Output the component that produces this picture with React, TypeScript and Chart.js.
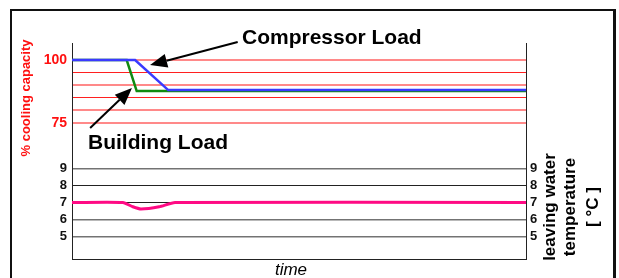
import React, { useEffect, useRef } from 'react';
import { Chart, registerables } from 'chart.js';

Chart.register(...registerables);

// ---- data ----
const timeBlue = [0, 13.9, 21.2, 100];
const capBlue = [100, 100, 88, 88];
const timeGreen = [0, 12.05, 14.25, 100];
const capGreen = [100, 100, 87.6, 87.6];
const timePink = [0, 11.2, 13.4, 15.2, 19.2, 22.7, 100];
const tempPink = [7, 7, 6.75, 6.62, 6.75, 7, 7];
const capTicks = [75, 80, 85, 90, 95, 100];
const capLabels = [75, 100];
const tempTicks = [5, 6, 7, 8, 9];

const FONT = '"Liberation Sans", Arial, Helvetica, sans-serif';

const toPts = (xs: number[], ys: number[]) => xs.map((x, i) => ({ x, y: ys[i] }));

function arrow(ctx: CanvasRenderingContext2D, x0: number, y0: number, x1: number, y1: number) {
  const ang = Math.atan2(y1 - y0, x1 - x0);
  const L = 17, W = 7;
  const bx = x1 - L * Math.cos(ang), by = y1 - L * Math.sin(ang);
  ctx.beginPath();
  ctx.moveTo(x0, y0);
  ctx.lineTo(bx, by);
  ctx.strokeStyle = '#000';
  ctx.lineWidth = 2;
  ctx.stroke();
  ctx.beginPath();
  ctx.moveTo(x1, y1);
  ctx.lineTo(bx + W * Math.sin(ang), by - W * Math.cos(ang));
  ctx.lineTo(bx - W * Math.sin(ang), by + W * Math.cos(ang));
  ctx.closePath();
  ctx.fillStyle = '#000';
  ctx.fill();
}

const decorPlugin = {
  id: 'decor',
  beforeDraw(chart: any) {
    const ctx = chart.ctx;
    ctx.save();
    ctx.fillStyle = '#fff';
    ctx.fillRect(0, 0, chart.width, chart.height);
    ctx.fillStyle = '#111';
    ctx.fillRect(10, 9, 606, 2);
    ctx.fillRect(10, 9, 2, 270);
    ctx.fillRect(613, 9, 3, 270);
    ctx.restore();
  },
  afterDraw(chart: any) {
    const ctx = chart.ctx;
    const xs = chart.scales.x;
    const y1 = chart.scales.y1;
    ctx.save();
    // left title
    ctx.save();
    ctx.translate(26, 98);
    ctx.rotate(-Math.PI / 2);
    ctx.font = `bold 13px ${FONT}`;
    ctx.fillStyle = '#ff1010';
    ctx.textAlign = 'center';
    ctx.textBaseline = 'middle';
    ctx.fillText('% cooling capacity', 0, 0);
    ctx.restore();
    // right title
    const lines = ['leaving water', 'temperature', '[ °C ]'];
    const lx = [550, 570, 593];
    lines.forEach((t, i) => {
      ctx.save();
      ctx.translate(lx[i], 207);
      ctx.rotate(-Math.PI / 2);
      ctx.font = `bold 17px ${FONT}`;
      ctx.fillStyle = '#000';
      ctx.textAlign = 'center';
      ctx.textBaseline = 'middle';
      ctx.fillText(t, 0, 0);
      ctx.restore();
    });
    // x title
    ctx.font = `italic 17px ${FONT}`;
    ctx.fillStyle = '#000';
    ctx.textAlign = 'center';
    ctx.textBaseline = 'alphabetic';
    ctx.fillText('time', 291, 275);
    // annotations
    ctx.font = `bold 21px ${FONT}`;
    ctx.textAlign = 'left';
    ctx.fillText('Compressor Load', 242, 43.5);
    ctx.fillText('Building Load', 88, 148.5);
    arrow(ctx, xs.getPixelForValue(36.5), y1.getPixelForValue(107.2), xs.getPixelForValue(17.2), y1.getPixelForValue(98));
    arrow(ctx, xs.getPixelForValue(4), y1.getPixelForValue(72.9), xs.getPixelForValue(13.2), y1.getPixelForValue(88.8));
    ctx.restore();
  },
};

export default function App() {
  const ref = useRef<HTMLCanvasElement | null>(null);
  useEffect(() => {
    if (!ref.current) return;
    const chart = new Chart(ref.current, {
      type: 'line',
      data: {
        datasets: [
          {
            label: 'Compressor Load',
            data: toPts(timeBlue, capBlue),
            yAxisID: 'y1',
            borderColor: '#3a3aff',
            borderWidth: 2.5,
            pointRadius: 0,
            tension: 0,
          },
          {
            label: 'Building Load',
            data: toPts(timeGreen, capGreen),
            yAxisID: 'y1',
            borderColor: '#108a10',
            borderWidth: 2.5,
            pointRadius: 0,
            tension: 0,
          },
          {
            label: 'Leaving water temperature',
            data: toPts(timePink, tempPink),
            yAxisID: 'y2',
            borderColor: '#ff0a84',
            borderWidth: 3,
            pointRadius: 0,
            tension: 0.2,
          },
        ],
      },
      options: {
        animation: false,
        responsive: false,
        devicePixelRatio: 1,
        layout: { padding: { top: 43, left: 0, right: 0, bottom: 0 } },
        plugins: { legend: { display: false }, tooltip: { enabled: false } },
        scales: {
          x: {
            type: 'linear',
            min: 0,
            max: 100,
            ticks: { display: false },
            grid: { display: false, drawTicks: false },
            border: { display: true, color: '#222', width: 1 },
            afterFit: (s: any) => { s.height = 19; },
          },
          y2: {
            type: 'linear',
            position: 'left',
            stack: 'L',
            stackWeight: 109,
            min: 3.657,
            max: 10.11,
            afterBuildTicks: (s: any) => { s.ticks = tempTicks.map((v) => ({ value: v })); },
            ticks: {
              autoSkip: false,
              color: '#111',
              font: { family: FONT, size: 13, weight: 'bold' },
              padding: 5,
            },
            grid: {
              drawTicks: false,
              color: (c: any) => ([8, 7].includes(c.tick?.value) ? '#222' : 'rgba(0,0,0,0.55)'),
              lineWidth: (c: any) => ([8, 7].includes(c.tick?.value) ? 1 : 1.6),
            },
            border: { display: true, color: '#222', width: 1 },
            afterFit: (s: any) => { s.width = 72; },
          },
          y1: {
            type: 'linear',
            position: 'left',
            stack: 'L',
            stackWeight: 107,
            min: 64.12,
            max: 106.78,
            afterBuildTicks: (s: any) => { s.ticks = capTicks.map((v) => ({ value: v })); },
            ticks: {
              autoSkip: false,
              color: '#ff1010',
              font: { family: FONT, size: 14, weight: 'bold' },
              padding: 5,
              callback: (v: any) => (capLabels.includes(Number(v)) ? String(v) : ''),
            },
            grid: {
              drawTicks: false,
              color: (c: any) => ([100, 90, 80, 75].includes(c.tick?.value) ? 'rgba(255,40,40,0.55)' : '#ff2020'),
              lineWidth: (c: any) => ([100, 90, 80, 75].includes(c.tick?.value) ? 2 : 1),
            },
            border: { display: true, color: '#222', width: 1 },
            afterFit: (s: any) => { s.width = 72; },
          },
          y1r: {
            type: 'linear',
            position: 'right',
            stack: 'R',
            stackWeight: 107,
            min: 64.12,
            max: 106.78,
            ticks: { display: false },
            grid: { display: false, drawTicks: false },
            border: { display: true, color: '#222', width: 1 },
            afterFit: (s: any) => { s.width = 93; },
          },
          y2r: {
            type: 'linear',
            position: 'right',
            stack: 'R',
            stackWeight: 109,
            min: 3.657,
            max: 10.11,
            afterBuildTicks: (s: any) => { s.ticks = tempTicks.map((v) => ({ value: v })); },
            ticks: {
              autoSkip: false,
              color: '#111',
              font: { family: FONT, size: 13, weight: 'bold' },
              padding: 4,
            },
            grid: { display: false, drawTicks: false },
            border: { display: true, color: '#222', width: 1 },
            afterFit: (s: any) => { s.width = 93; },
          },
        },
      } as any,
      plugins: [decorPlugin],
    });
    return () => chart.destroy();
  }, []);
  return (
    <div style={{ position: 'fixed', left: 0, top: 0, width: 619, height: 278 }}>
      <canvas ref={ref} width={619} height={278} style={{ width: 619, height: 278, display: 'block' }} />
    </div>
  );
}
